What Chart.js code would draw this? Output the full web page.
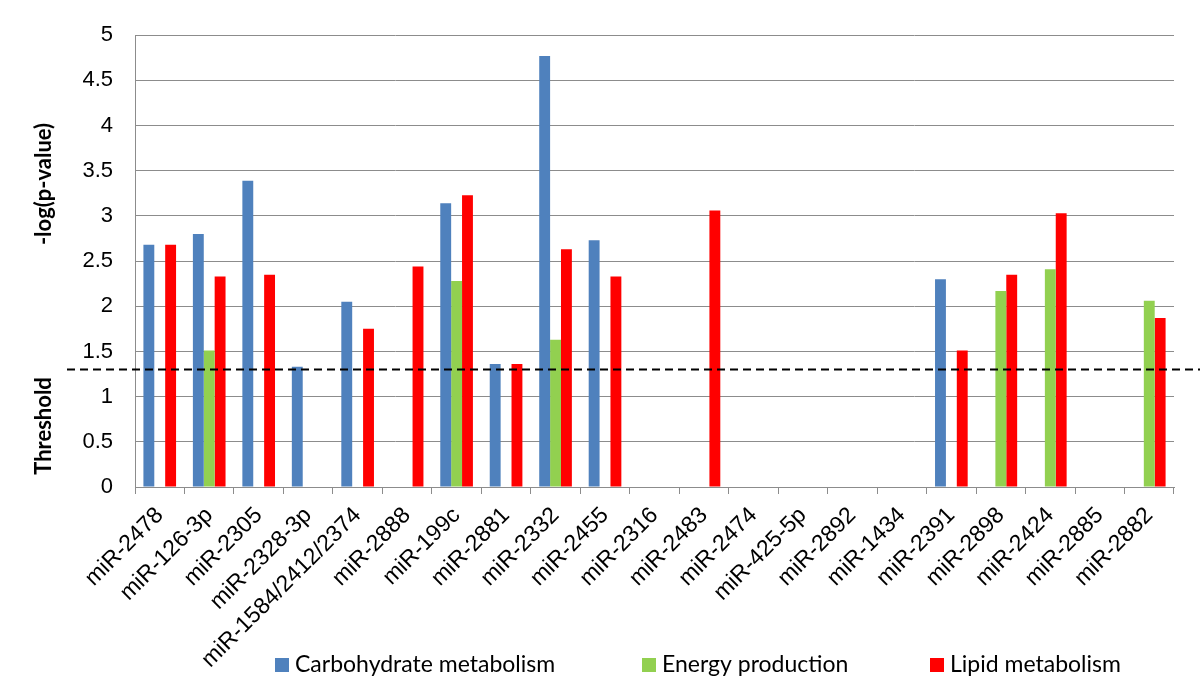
<!DOCTYPE html>
<html>
<head>
  <meta charset="UTF-8">
  <title>miRNA pathway enrichment</title>
  <script src="https://cdn.jsdelivr.net/npm/chart.js"></script>
  <style>
    html, body { margin: 0; padding: 0; background: #fff; }
    #wrap { width: 1200px; height: 693px; }
  </style>
</head>
<body>
  <div id="wrap"><canvas id="mirChart" width="1200" height="693"></canvas></div>

  <script>
    const categories = [
      'miR-2478', 'miR-126-3p', 'miR-2305', 'miR-2328-3p', 'miR-1584/2412/2374',
      'miR-2888', 'miR-199c', 'miR-2881', 'miR-2332', 'miR-2455', 'miR-2316',
      'miR-2483', 'miR-2474', 'miR-425-5p', 'miR-2892', 'miR-1434', 'miR-2391',
      'miR-2898', 'miR-2424', 'miR-2885', 'miR-2882'
    ];
    const carbohydrate = [2.68, 2.80, 3.39, 1.33, 2.05, 0, 3.14, 1.36, 4.77, 2.73, 0, 0, 0, 0, 0, 0, 2.30, 0, 0, 0, 0];
    const energy       = [0, 1.51, 0, 0, 0, 0, 2.28, 0, 1.63, 0, 0, 0, 0, 0, 0, 0, 0, 2.17, 2.41, 0, 2.06];
    const lipid        = [2.68, 2.33, 2.35, 0, 1.75, 2.44, 3.23, 1.36, 2.63, 2.33, 0, 3.06, 0, 0, 0, 0, 1.51, 2.35, 3.03, 0, 1.87];
    const seriesNames = ['Carbohydrate metabolism', 'Energy production', 'Lipid metabolism'];
    const threshold = 1.3; // -log10(0.05)

    const colors = ['#4F81BD', '#92D050', '#FF0000'];
    const gridGray = '#8c8c8c';

    // threshold line, rotated side titles and the legend
    const extras = {
      id: 'extras',
      afterDatasetsDraw(chart) {
        const ctx = chart.ctx;
        const y = chart.scales.y.getPixelForValue(threshold);
        ctx.save();
        ctx.strokeStyle = '#000';
        ctx.lineWidth = 2;
        ctx.setLineDash([8, 5]);
        ctx.beginPath();
        ctx.moveTo(67, y);
        ctx.lineTo(1200, y);
        ctx.stroke();
        ctx.restore();
      },
      afterDraw(chart) {
        const ctx = chart.ctx;
        const sideTitle = (text, cy) => {
          ctx.save();
          ctx.fillStyle = '#000';
          ctx.font = 'bold 22px Lato';
          ctx.textAlign = 'center';
          ctx.textBaseline = 'middle';
          ctx.translate(44, cy);
          ctx.rotate(-Math.PI / 2);
          ctx.fillText(text, 0, 0);
          ctx.restore();
        };
        sideTitle('-log(p-value)', 184);
        sideTitle('Threshold', 426);

        // legend
        const legendX = [275, 642, 930];
        ctx.save();
        ctx.font = '23px Lato';
        ctx.textBaseline = 'middle';
        chart.data.datasets.forEach((ds, i) => {
          ctx.fillStyle = ds.backgroundColor;
          ctx.fillRect(legendX[i], 658, 14, 14);
          ctx.fillStyle = '#000';
          ctx.fillText(ds.label, legendX[i] + 20, 665);
        });
        ctx.restore();
      }
    };

    new Chart(document.getElementById('mirChart'), {
      type: 'bar',
      data: {
        labels: categories,
        datasets: [
          { label: seriesNames[0], data: carbohydrate, backgroundColor: colors[0] },
          { label: seriesNames[1], data: energy, backgroundColor: colors[1] },
          { label: seriesNames[2], data: lipid, backgroundColor: colors[2] }
        ]
      },
      options: {
        responsive: false,
        animation: false,
        layout: { padding: { top: 25, right: 26, bottom: 0, left: 0 } },
        datasets: { bar: { categoryPercentage: 0.66, barPercentage: 1.0 } },
        plugins: {
          legend: { display: false },
          tooltip: { enabled: false }
        },
        scales: {
          x: {
            offset: true,
            grid: { offset: true, drawOnChartArea: false, drawTicks: true, tickLength: 7, color: gridGray },
            border: { color: gridGray },
            ticks: {
              autoSkip: false, minRotation: 45, maxRotation: 45, color: '#000', padding: 8,
              font: { family: 'Liberation Sans', size: 23 }
            },
            afterFit(scale) { scale.height = 206; }
          },
          y: {
            min: 0,
            max: 5,
            ticks: {
              stepSize: 0.5, color: '#000', padding: 22,
              font: { family: 'Liberation Sans', size: 22 },
              callback: v => String(Number(v))
            },
            grid: { color: gridGray, drawTicks: false },
            border: { color: gridGray },
            afterFit(scale) { scale.width = 135; }
          }
        }
      },
      plugins: [extras]
    });
  </script>
</body>
</html>
